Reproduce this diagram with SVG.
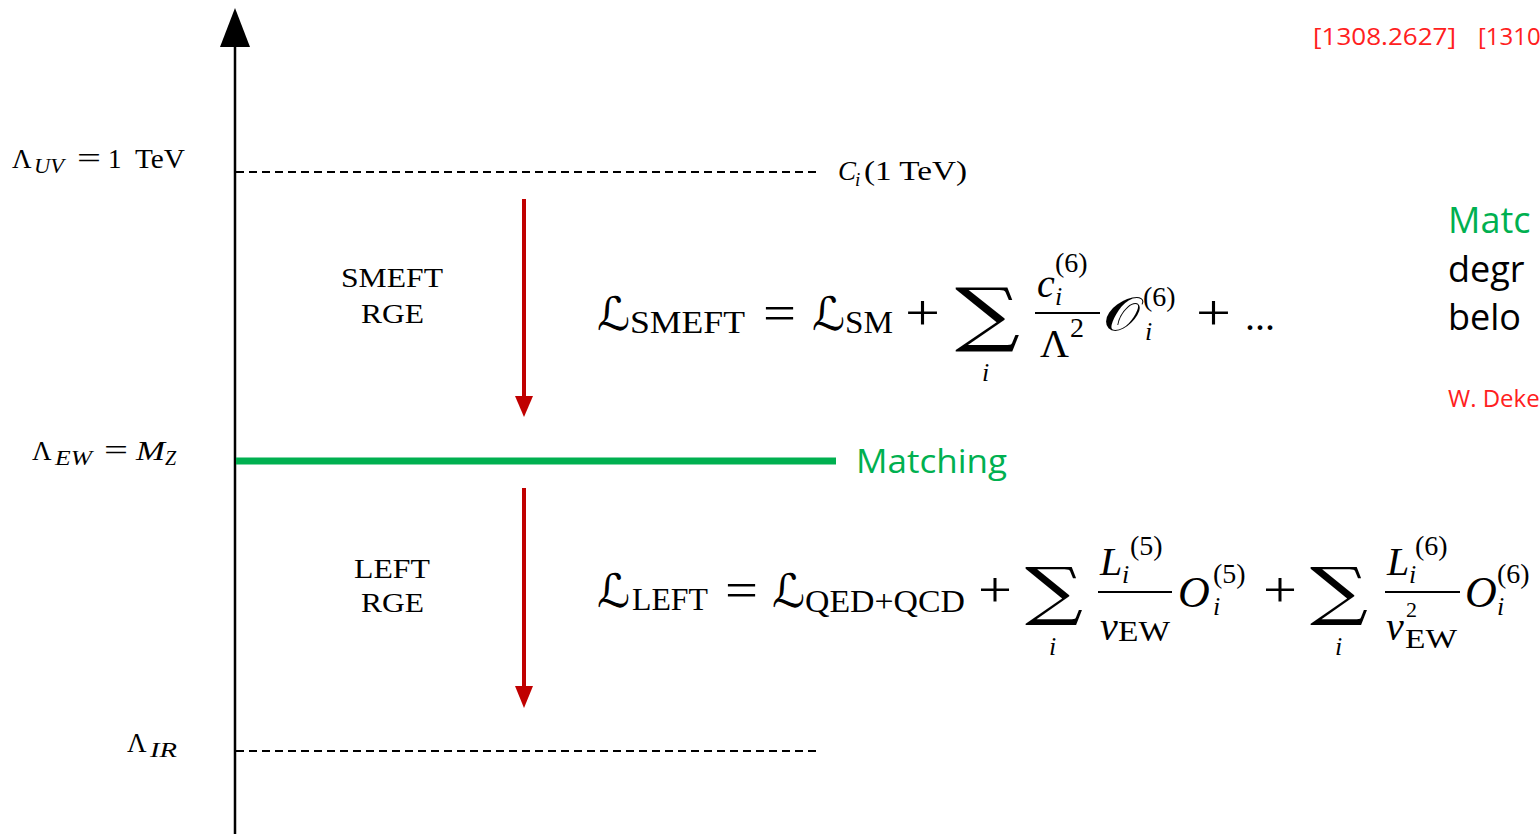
<svg xmlns="http://www.w3.org/2000/svg" width="1540" height="834" viewBox="0 0 1540 834">
<defs>
<style>
.cm{font-family:"Liberation Serif","DejaVu Serif",serif;fill:#000}
.it{font-style:italic}
.scr{font-family:"DejaVu Serif","DejaVu Sans",serif;fill:#000}
.sum{font-family:"DejaVu Serif","Liberation Serif",serif;fill:#000}
.cal{font-family:"Open Sans","Liberation Sans",sans-serif}
.dash{stroke:#000;stroke-width:2;stroke-dasharray:8 5;fill:none}
.red{stroke:#c00000;stroke-width:4;fill:none}
</style>
</defs>
<g id="connectors">
<line x1="235" y1="40" x2="235" y2="834" stroke="#000" stroke-width="2.5"/>
<path d="M235,8 L220,47 L250,47 z" fill="#000"/>
<line class="dash" x1="236" y1="172" x2="818" y2="172"/>
<line class="dash" x1="236" y1="751" x2="818" y2="751"/>
<line x1="236" y1="461" x2="836" y2="461" stroke="#00b050" stroke-width="7"/>
<line class="red" x1="524" y1="199" x2="524" y2="398"/>
<path d="M515,396 L533,396 L524,417 z" fill="#c00000"/>
<line class="red" x1="524" y1="488" x2="524" y2="688"/>
<path d="M515,686 L533,686 L524,708 z" fill="#c00000"/>
</g>
<g id="uv-label">
<text class="cm" x="12" y="168" font-size="27">Λ</text>
<text class="cm it" x="34" y="173" font-size="20" textLength="30" lengthAdjust="spacingAndGlyphs">UV</text>
<text class="cm" x="77" y="168" font-size="30" textLength="24" lengthAdjust="spacingAndGlyphs">=</text>
<text class="cm" x="108" y="168" font-size="27">1</text>
<text class="cm" x="135" y="168" font-size="27" textLength="50" lengthAdjust="spacingAndGlyphs">TeV</text>
</g>
<g id="ci-label">
<text class="cm it" x="838" y="180" font-size="27">C</text>
<text class="cm it" x="855" y="186" font-size="19">i</text>
<text class="cm" x="864" y="180" font-size="27" textLength="103" lengthAdjust="spacingAndGlyphs">(1 TeV)</text>
</g>
<g id="ew-label">
<text class="cm" x="32" y="460" font-size="27">Λ</text>
<text class="cm it" x="55" y="465" font-size="20" textLength="37" lengthAdjust="spacingAndGlyphs">EW</text>
<text class="cm" x="104" y="460" font-size="30" textLength="24" lengthAdjust="spacingAndGlyphs">=</text>
<text class="cm it" x="136" y="460" font-size="27" textLength="29" lengthAdjust="spacingAndGlyphs">M</text>
<text class="cm it" x="165" y="465" font-size="20">Z</text>
</g>
<g id="ir-label">
<text class="cm" x="127" y="752" font-size="27">Λ</text>
<text class="cm it" x="150" y="757" font-size="20" textLength="27" lengthAdjust="spacingAndGlyphs">IR</text>
</g>
<g id="smeft-rge">
<text class="cm" x="341" y="287" font-size="28" textLength="102" lengthAdjust="spacingAndGlyphs">SMEFT</text>
<text class="cm" x="361" y="323" font-size="28" textLength="63" lengthAdjust="spacingAndGlyphs">RGE</text>
</g>
<g id="left-rge">
<text class="cm" x="354" y="578" font-size="28" textLength="76" lengthAdjust="spacingAndGlyphs">LEFT</text>
<text class="cm" x="361" y="612" font-size="28" textLength="63" lengthAdjust="spacingAndGlyphs">RGE</text>
</g>
<g id="matching">
<text class="cal" x="856" y="473" font-size="33" fill="#00b050" textLength="151" lengthAdjust="spacingAndGlyphs">Matching</text>
</g>
<g id="smeft-eq">
<text class="scr" x="597" y="330" font-size="46">ℒ</text>
<text class="cm" x="630" y="333" font-size="32" textLength="115" lengthAdjust="spacingAndGlyphs">SMEFT</text>
<text class="cm" x="763" y="330" font-size="50" textLength="33" lengthAdjust="spacingAndGlyphs">=</text>
<text class="scr" x="812" y="330" font-size="46">ℒ</text>
<text class="cm" x="845" y="333" font-size="32" textLength="48" lengthAdjust="spacingAndGlyphs">SM</text>
<text class="cm" x="905" y="330" font-size="50" textLength="35" lengthAdjust="spacingAndGlyphs">+</text>
<text class="sum" x="955" y="338" font-size="70" textLength="65" lengthAdjust="spacingAndGlyphs">∑</text>
<text class="cm it" x="982" y="381" font-size="26">i</text>
<text class="cm it" x="1037" y="297" font-size="40">c</text>
<text class="cm it" x="1055" y="305" font-size="26">i</text>
<text class="cm" x="1055" y="272" font-size="28">(6)</text>
<line x1="1035" y1="313" x2="1100" y2="313" stroke="#000" stroke-width="2"/>
<text class="cm" x="1040" y="357" font-size="40">Λ</text>
<text class="cm" x="1070" y="337" font-size="28">2</text>
<text class="scr" x="1103" y="330" font-size="46" textLength="37" lengthAdjust="spacingAndGlyphs">𝒪</text>
<text class="cm" x="1143" y="306" font-size="28">(6)</text>
<text class="cm it" x="1145" y="340" font-size="26">i</text>
<text class="cm" x="1196" y="330" font-size="50" textLength="35" lengthAdjust="spacingAndGlyphs">+</text>
<text class="cm" x="1245" y="330" font-size="40">...</text>
</g>
<g id="left-eq">
<text class="scr" x="597" y="607" font-size="46">ℒ</text>
<text class="cm" x="632" y="610" font-size="32" textLength="76" lengthAdjust="spacingAndGlyphs">LEFT</text>
<text class="cm" x="725" y="607" font-size="50" textLength="33" lengthAdjust="spacingAndGlyphs">=</text>
<text class="scr" x="772" y="607" font-size="46">ℒ</text>
<text class="cm" x="805" y="612" font-size="32" textLength="160" lengthAdjust="spacingAndGlyphs">QED+QCD</text>
<text class="cm" x="978" y="607" font-size="50" textLength="34" lengthAdjust="spacingAndGlyphs">+</text>
<text class="sum" x="1025" y="613" font-size="64" textLength="58" lengthAdjust="spacingAndGlyphs">∑</text>
<text class="cm it" x="1049" y="655" font-size="26">i</text>
<text class="cm it" x="1100" y="575" font-size="40">L</text>
<text class="cm it" x="1122" y="583" font-size="26">i</text>
<text class="cm" x="1130" y="555" font-size="28">(5)</text>
<line x1="1098" y1="592" x2="1172" y2="592" stroke="#000" stroke-width="2"/>
<text class="cm it" x="1100" y="640" font-size="40">v</text>
<text class="cm" x="1118" y="641" font-size="30" textLength="52" lengthAdjust="spacingAndGlyphs">EW</text>
<text class="cm it" x="1178" y="607" font-size="44">O</text>
<text class="cm" x="1213" y="583" font-size="28">(5)</text>
<text class="cm it" x="1213" y="615" font-size="26">i</text>
<text class="cm" x="1263" y="607" font-size="50" textLength="34" lengthAdjust="spacingAndGlyphs">+</text>
<text class="sum" x="1310" y="613" font-size="64" textLength="58" lengthAdjust="spacingAndGlyphs">∑</text>
<text class="cm it" x="1335" y="655" font-size="26">i</text>
<text class="cm it" x="1387" y="575" font-size="40">L</text>
<text class="cm it" x="1409" y="583" font-size="26">i</text>
<text class="cm" x="1415" y="555" font-size="28">(6)</text>
<line x1="1385" y1="592" x2="1460" y2="592" stroke="#000" stroke-width="2"/>
<text class="cm it" x="1386" y="640" font-size="40">v</text>
<text class="cm" x="1406" y="617" font-size="22">2</text>
<text class="cm" x="1405" y="648" font-size="28" textLength="52" lengthAdjust="spacingAndGlyphs">EW</text>
<text class="cm it" x="1465" y="607" font-size="44">O</text>
<text class="cm" x="1497" y="583" font-size="28">(6)</text>
<text class="cm it" x="1497" y="615" font-size="26">i</text>
</g>
<g id="refs">
<text class="cal" x="1313" y="45" font-size="24" fill="#ff2020" textLength="143" lengthAdjust="spacingAndGlyphs">[1308.2627]</text>
<text class="cal" x="1478" y="45" font-size="24" fill="#ff2020">[1310</text>
</g>
<g id="side-text">
<text class="cal" x="1448" y="233" font-size="36" fill="#00b050">Matc</text>
<text class="cal" x="1448" y="282" font-size="36" fill="#000">degr</text>
<text class="cal" x="1448" y="330" font-size="36" fill="#000">belo</text>
<text class="cal" x="1448" y="407" font-size="24" fill="#ff2020">W. Deke</text>
</g>
</svg>
